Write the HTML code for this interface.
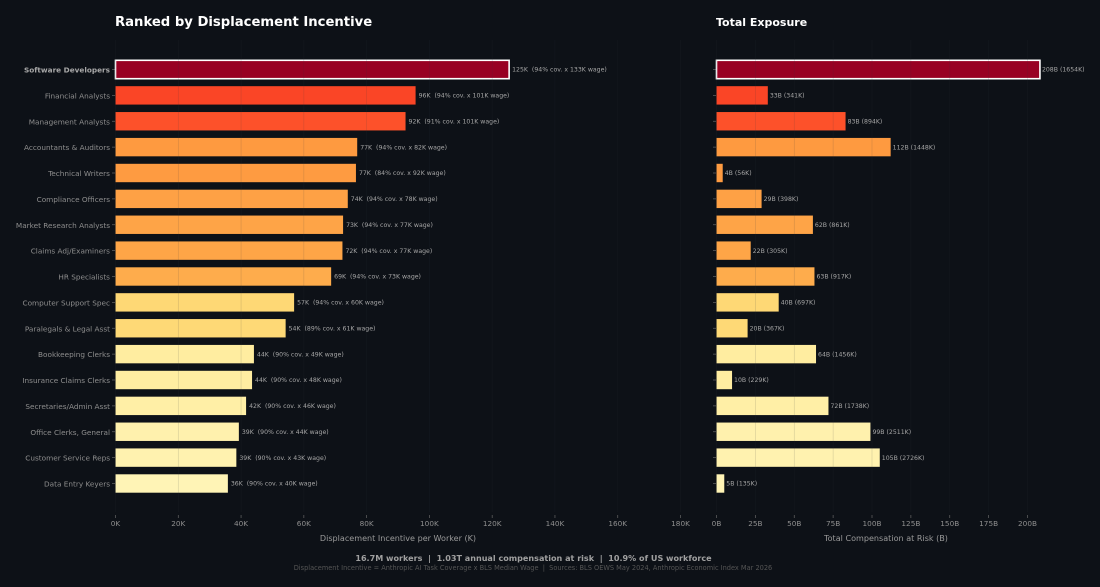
<!DOCTYPE html>
<html lang="en">
<head>
<meta charset="utf-8">
<title>Ranked by Displacement Incentive</title>
<style>
html,body{margin:0;padding:0;background:#0d1117;width:1100px;height:587px;overflow:hidden}
svg{display:block}
text{font-family:"DejaVu Sans","Liberation Sans",sans-serif;white-space:pre}
</style>
</head>
<body>
<svg id="chart" xmlns="http://www.w3.org/2000/svg" width="1100" height="587" viewBox="0 0 1100 587">
<rect x="0" y="0" width="1100" height="587" fill="#0d1117"/>
<text x="115" y="26" font-size="13.2" font-weight="700" fill="#ffffff">Ranked by Displacement Incentive</text>
<text x="716" y="26" font-size="11" font-weight="700" fill="#ffffff">Total Exposure</text>
<text x="398" y="541" font-size="8.07" fill="#9a9a9a" text-anchor="middle">Displacement Incentive per Worker (K)</text>
<text x="886" y="541" font-size="8.07" fill="#9a9a9a" text-anchor="middle">Total Compensation at Risk (B)</text>
<text x="533.5" y="561" font-size="8.07" font-weight="700" fill="#a0a0a0" text-anchor="middle">16.7M workers  |  1.03T annual compensation at risk  |  10.9% of US workforce</text>
<text x="533" y="570" font-size="6.6" fill="#555555" text-anchor="middle">Displacement Incentive = Anthropic AI Task Coverage x BLS Median Wage  |  Sources: BLS OEWS May 2024, Anthropic Economic Index Mar 2026</text>
<g id="plot"></g>
</svg>
<script>
const occupations = ["Software Developers","Financial Analysts","Management Analysts","Accountants & Auditors","Technical Writers","Compliance Officers","Market Research Analysts","Claims Adj/Examiners","HR Specialists","Computer Support Spec","Paralegals & Legal Asst","Bookkeeping Clerks","Insurance Claims Clerks","Secretaries/Admin Asst","Office Clerks, General","Customer Service Reps","Data Entry Keyers"];
const incentiveK = [125.4,95.6,92.4,77,76.6,74,72.5,72.3,68.7,56.9,54.2,44.1,43.5,41.6,39.3,38.5,35.8];
const coveragePct = [94,94,91,94,84,94,94,94,94,94,89,90,90,90,90,90,90];
const wageK = [133,101,101,82,92,78,77,77,73,60,61,49,48,46,44,43,40];
const exposureB = [208,33,83,112,4,29,62,22,63,40,20,64,10,72,99,105,5];
const workersK = [1654,341,894,1448,56,398,861,305,917,697,367,1456,229,1738,2511,2726,135];
const incentiveTicks = [0,20,40,60,80,100,120,140,160,180];
const exposureTicks = [0,25,50,75,100,125,150,175,200];

const NS = 'http://www.w3.org/2000/svg';
const plot = document.getElementById('plot');
const xIncentive = v => 115.5 + v * 3.139;
const xExposure = v => 716.5 + v * 1.555;
const yRow = i => 69.5 + i * 25.875;
const BAR_H = 18.4;
const colorStops = [[35,[255,245,184]],[44,[255,237,160]],[50,[254,224,130]],[54,[254,217,118]],[57,[254,216,117]],[58,[254,176,76]],[69,[254,172,76]],[77,[254,154,64]],[78,[253,82,42]],[92,[253,82,42]],[96,[250,68,38]],[110,[152,0,35]],[200,[152,0,35]]];
function colorFor(v){
  if (v <= colorStops[0][0]) return 'rgb(' + colorStops[0][1].join(',') + ')';
  for (let k = 1; k < colorStops.length; k++){
    if (v <= colorStops[k][0]){
      const a = colorStops[k-1], b = colorStops[k];
      const t = (v - a[0]) / (b[0] - a[0]);
      return 'rgb(' + a[1].map((c,j) => Math.round(c + (b[1][j]-c)*t)).join(',') + ')';
    }
  }
  return 'rgb(152,0,35)';
}
function make(tag, attrs, text){
  const el = document.createElementNS(NS, tag);
  for (const k in attrs) el.setAttribute(k, attrs[k]);
  if (text !== undefined) el.textContent = text;
  plot.appendChild(el);
  return el;
}

occupations.forEach((name, i) => {
  const y = yRow(i);
  const fill = colorFor(incentiveK[i]);
  const top = i === 0;
  const slug = name.toLowerCase().replace(/[^a-z]+/g, '-');

  const lt = make('line', {x1:112, x2:115, y1:y, y2:y, stroke:'#666', 'stroke-width':0.7});
  
  
  const rt = make('line', {x1:713, x2:716, y1:y, y2:y, stroke:'#666', 'stroke-width':0.7});
  
  

  const lab = make('text', {x:110, y:y+3, 'font-size':7.3, fill: top ? '#a8a8a8' : '#8e8e8e', 'font-weight': top ? 700 : 400, 'text-anchor':'end'}, name);
  
  

  const stroke = top ? {stroke:'#ffffff','stroke-width':1.6} : {};
  const b1 = make('rect', Object.assign({x:xIncentive(0), y:y-BAR_H/2, width:xIncentive(incentiveK[i])-xIncentive(0), height:BAR_H, fill}, stroke));
  
  
  const b2 = make('rect', Object.assign({x:xExposure(0), y:y-BAR_H/2, width:xExposure(exposureB[i])-xExposure(0), height:BAR_H, fill}, stroke));
  
  

  const v1 = make('text', {x:xIncentive(incentiveK[i])+3, y:y+2.2, 'font-size':6.2, fill:'#a6a6a6'},
    incentiveK[i].toFixed(0) + 'K  (' + coveragePct[i] + '% cov. x ' + wageK[i] + 'K wage)');
  
  
  const v2 = make('text', {x:xExposure(exposureB[i])+2, y:y+2.2, 'font-size':6.2, fill:'#a6a6a6'},
    exposureB[i].toFixed(0) + 'B (' + workersK[i] + 'K)');
  
  
});

incentiveTicks.forEach(t => {
  const x = xIncentive(t);
  const g = make('line', {x1:x, x2:x, y1:40, y2:512, stroke:'#30363d', 'stroke-width':0.6, opacity:0.2});
  
  
  const m = make('line', {x1:x, x2:x, y1:515, y2:518, stroke:'#666', 'stroke-width':0.7});
  
  
  const l = make('text', {x, y:526, 'font-size':7.3, fill:'#8e8e8e', 'text-anchor':'middle'}, t + 'K');
  
  
});

exposureTicks.forEach(t => {
  const x = xExposure(t);
  const g = make('line', {x1:x, x2:x, y1:40, y2:512, stroke:'#30363d', 'stroke-width':0.6, opacity:0.2});
  
  
  const m = make('line', {x1:x, x2:x, y1:515, y2:518, stroke:'#666', 'stroke-width':0.7});
  
  
  const l = make('text', {x, y:526, 'font-size':7.3, fill:'#8e8e8e', 'text-anchor':'middle'}, t + 'B');
  
  
});
</script>
</body>
</html>
